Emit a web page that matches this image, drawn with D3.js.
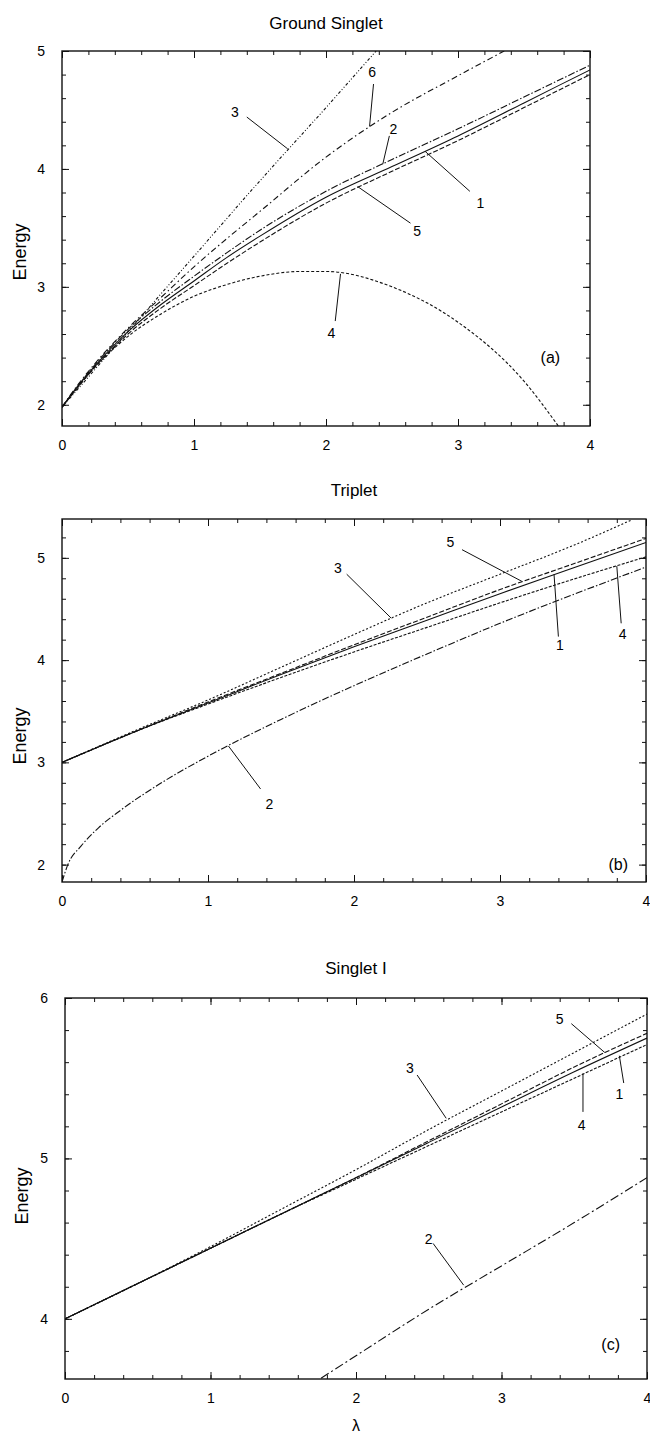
<!DOCTYPE html>
<html>
<head>
<meta charset="utf-8">
<script src="https://cdn.jsdelivr.net/npm/d3@7"></script>
<style>
  body { margin: 0; background: #fff; }
  svg { display: block; font-family: "Liberation Sans", Arial, Helvetica, sans-serif; }
</style>
</head>
<body>
<svg id="chart" width="650" height="1441"></svg>
<script>
// ---- panel (a): Ground Singlet ----
var lamA  = [0, 0.1, 0.25, 0.5, 0.75, 1, 1.25, 1.5, 2, 2.5, 3, 3.5, 4]
var gs1   = [1.98, 2.13, 2.33, 2.62, 2.85, 3.05, 3.25, 3.43, 3.76, 4.02, 4.28, 4.56, 4.84]
var gs2   = [1.98, 2.13, 2.34, 2.64, 2.88, 3.09, 3.29, 3.48, 3.81, 4.08, 4.34, 4.61, 4.88]
var gs5   = [1.98, 2.12, 2.32, 2.60, 2.82, 3.01, 3.20, 3.38, 3.71, 3.98, 4.24, 4.52, 4.80]
var lam3A = [0, 0.5, 1, 1.5, 2, 2.38]
var gs3   = [1.98, 2.62, 3.26, 3.90, 4.52, 5.0]
var lam6A = [0, 0.1, 0.25, 0.5, 0.75, 1, 1.25, 1.5, 2, 2.5, 3, 3.35]
var gs6   = [1.98, 2.14, 2.35, 2.65, 2.91, 3.17, 3.41, 3.64, 4.10, 4.48, 4.79, 5.0]
var lam4A = [0, 0.25, 0.5, 0.75, 1, 1.25, 1.5, 1.8, 2, 2.5, 3, 3.5, 3.76]
var gs4   = [1.98, 2.32, 2.58, 2.77, 2.92, 3.02, 3.09, 3.13, 3.13, 3.0, 2.70, 2.20, 1.82]

// ---- panel (b): Triplet ----
var lamB  = [0, 0.5, 1, 1.5, 2, 2.5, 3, 3.5, 4]
var tr1   = [3.0, 3.30, 3.58, 3.86, 4.13, 4.39, 4.65, 4.90, 5.15]
var tr5   = [3.0, 3.30, 3.59, 3.87, 4.15, 4.42, 4.69, 4.94, 5.19]
var tr4   = [3.0, 3.30, 3.57, 3.83, 4.08, 4.32, 4.56, 4.79, 5.01]
var lam3B = [0, 0.5, 1, 1.5, 2, 2.5, 3, 3.5, 3.9]
var tr3   = [3.0, 3.31, 3.61, 3.93, 4.25, 4.56, 4.84, 5.12, 5.37]
var lam2B = [0, 0.04, 0.13, 0.25, 0.4, 0.67, 1, 1.5, 2, 2.5, 3, 3.5, 4]
var tr2   = [1.83, 2.0, 2.18, 2.36, 2.53, 2.79, 3.06, 3.42, 3.75, 4.06, 4.36, 4.64, 4.91]

// ---- panel (c): Singlet I ----
var lamC  = [0, 0.5, 1, 1.5, 2, 2.5, 3, 3.5, 4]
var si1   = [4.0, 4.22, 4.44, 4.66, 4.88, 5.10, 5.32, 5.54, 5.75]
var si5   = [4.0, 4.22, 4.44, 4.66, 4.88, 5.11, 5.34, 5.57, 5.78]
var si4   = [4.0, 4.22, 4.44, 4.66, 4.87, 5.08, 5.29, 5.50, 5.71]
var si3   = [4.0, 4.22, 4.45, 4.69, 4.93, 5.18, 5.42, 5.66, 5.90]
var lam2C = [1.76, 2, 2.5, 3, 3.5, 4]
var si2   = [3.63, 3.77, 4.06, 4.33, 4.60, 4.88]

var xTicks = [0, 1, 2, 3, 4]

window.onload = () => {
  draw_panel({
    id: "a", left: 62, right: 590, top: 51, bottom: 426,
    yDomain: [1.82, 5.0], yTicks: [2, 3, 4, 5],
    title: "Ground Singlet", titleY: 23, energyX: 26, energyY: 252,
    tag: "(a)", tagAt: [3.70, 2.40],
    series: [
      {x: lamA,  y: gs1, dash: null},
      {x: lamA,  y: gs2, dash: "7,2,1.5,2"},
      {x: lamA,  y: gs5, dash: "5,2"},
      {x: lam3A, y: gs3, dash: "3,2,1,2,1,2"},
      {x: lam6A, y: gs6, dash: "6,3,1.5,3"},
      {x: lam4A, y: gs4, dash: "3,2"}
    ],
    labels: [
      {t: "3", at: [1.31, 4.48], from: [1.40, 4.44], to: [1.71, 4.17]},
      {t: "6", at: [2.35, 4.82], from: [2.36, 4.72], to: [2.33, 4.36]},
      {t: "2", at: [2.51, 4.34], from: [2.48, 4.28], to: [2.43, 4.04]},
      {t: "1", at: [3.17, 3.71], from: [3.09, 3.81], to: [2.75, 4.15]},
      {t: "5", at: [2.69, 3.47], from: [2.64, 3.54], to: [2.24, 3.85]},
      {t: "4", at: [2.04, 2.61], from: [2.07, 2.71], to: [2.11, 3.11]}
    ]
  })
  draw_panel({
    id: "b", left: 62, right: 646, top: 519, bottom: 882,
    yDomain: [1.83, 5.38], yTicks: [2, 3, 4, 5],
    title: "Triplet", titleY: 490, energyX: 26, energyY: 736,
    tag: "(b)", tagAt: [3.81, 2.0],
    series: [
      {x: lamB,  y: tr1, dash: null},
      {x: lamB,  y: tr5, dash: "5,2"},
      {x: lamB,  y: tr4, dash: "3,1.5"},
      {x: lam3B, y: tr3, dash: "2,2"},
      {x: lam2B, y: tr2, dash: "7,2,1.5,2"}
    ],
    labels: [
      {t: "5", at: [2.66, 5.15], from: [2.74, 5.08], to: [3.15, 4.77]},
      {t: "3", at: [1.89, 4.90], from: [1.95, 4.84], to: [2.255, 4.41]},
      {t: "1", at: [3.41, 4.15], from: [3.40, 4.23], to: [3.37, 4.84]},
      {t: "4", at: [3.84, 4.25], from: [3.83, 4.36], to: [3.80, 4.92]},
      {t: "2", at: [1.42, 2.59], from: [1.36, 2.74], to: [1.14, 3.16]}
    ]
  })
  draw_panel({
    id: "c", left: 65, right: 647, top: 998, bottom: 1379,
    yDomain: [3.625, 6.0], yTicks: [4, 5, 6],
    title: "Singlet I", titleY: 968, energyX: 28, energyY: 1196,
    tag: "(c)", tagAt: [3.75, 3.84],
    series: [
      {x: lamC,  y: si1, dash: null},
      {x: lamC,  y: si5, dash: "5,2"},
      {x: lamC,  y: si4, dash: "3,1.5"},
      {x: lamC,  y: si3, dash: "2,2"},
      {x: lam2C, y: si2, dash: "9,3,2,3"}
    ],
    labels: [
      {t: "5", at: [3.40, 5.87], from: [3.48, 5.84], to: [3.71, 5.66]},
      {t: "1", at: [3.81, 5.40], from: [3.84, 5.47], to: [3.81, 5.64]},
      {t: "4", at: [3.55, 5.21], from: [3.56, 5.29], to: [3.56, 5.53]},
      {t: "3", at: [2.37, 5.56], from: [2.42, 5.52], to: [2.62, 5.25]},
      {t: "2", at: [2.50, 4.50], from: [2.53, 4.47], to: [2.74, 4.21]}
    ]
  })

  // lambda label under the last panel
  d3.select("#chart").append("text")
    .attr("x", 356).attr("y", 1431)
    .attr("text-anchor", "middle")
    .attr("font-size", 16)
    .text("λ")
}

function draw_panel(p) {
  var svg = d3.select("#chart")
  var w = p.right - p.left,
      h = p.bottom - p.top

  var x = d3.scaleLinear().domain([0, 4]).range([0, w])
  var y = d3.scaleLinear().domain(p.yDomain).range([h, 0])

  var g = svg.append("g")
    .attr("transform", "translate(" + p.left + "," + p.top + ")")

  // minor ticks every 0.2
  var xMinor = d3.range(0, 21).map(function(i) { return i * 0.2 })
  var yMinor = d3.range(Math.ceil(p.yDomain[0] * 5), Math.floor(p.yDomain[1] * 5 + 1e-6) + 1)
    .map(function(i) { return i / 5 })

  function minor(axis, vals, tf) {
    var a = g.append("g").attr("transform", tf)
      .call(axis.tickValues(vals).tickSize(-4).tickFormat(""))
    a.select(".domain").remove()
  }
  minor(d3.axisBottom(x), xMinor, "translate(0," + h + ")")
  minor(d3.axisTop(x), xMinor, "translate(0,0)")
  minor(d3.axisLeft(y), yMinor, "translate(0,0)")
  minor(d3.axisRight(y), yMinor, "translate(" + w + ",0)")

  // major ticks + labels
  var xb = g.append("g").attr("transform", "translate(0," + h + ")")
    .call(d3.axisBottom(x).tickValues(xTicks).tickSize(-7).tickPadding(14).tickFormat(d3.format("d")))
  var yl = g.append("g")
    .call(d3.axisLeft(y).tickValues(p.yTicks).tickSize(-7).tickPadding(17).tickFormat(d3.format("d")))
  g.append("g").call(d3.axisTop(x).tickValues(xTicks).tickSize(-7).tickFormat(""))
  g.append("g").attr("transform", "translate(" + w + ",0)")
    .call(d3.axisRight(y).tickValues(p.yTicks).tickSize(-7).tickFormat(""))
  g.selectAll(".domain").remove()
  g.selectAll(".tick line").attr("stroke", "#111").attr("stroke-width", 1)
  xb.attr("font-size", 14).attr("font-family", null)
  yl.attr("font-size", 14).attr("font-family", null)

  // frame
  g.append("rect")
    .attr("width", w).attr("height", h)
    .attr("fill", "none").attr("stroke", "#111").attr("stroke-width", 1.4)

  // clip for curves
  g.append("clipPath").attr("id", "clip-" + p.id)
    .append("rect").attr("width", w).attr("height", h)

  var line = d3.line()
    .curve(d3.curveMonotoneX)
    .x(function(d) { return x(d[0]) })
    .y(function(d) { return y(d[1]) })

  g.append("g").attr("clip-path", "url(#clip-" + p.id + ")")
    .selectAll("path")
    .data(p.series)
    .enter()
    .append("path")
      .attr("d", function(s) { return line(s.x.map(function(v, i) { return [v, s.y[i]] })) })
      .attr("fill", "none")
      .attr("stroke", "#111")
      .attr("stroke-width", 1.1)
      .attr("stroke-dasharray", function(s) { return s.dash })

  // curve labels with pointer lines
  g.selectAll("line.ptr")
    .data(p.labels)
    .enter()
    .append("line")
      .attr("class", "ptr")
      .attr("x1", function(d) { return x(d.from[0]) })
      .attr("y1", function(d) { return y(d.from[1]) })
      .attr("x2", function(d) { return x(d.to[0]) })
      .attr("y2", function(d) { return y(d.to[1]) })
      .attr("stroke", "#111")
      .attr("stroke-width", 1)

  g.selectAll("text.lbl")
    .data(p.labels)
    .enter()
    .append("text")
      .attr("class", "lbl")
      .attr("x", function(d) { return x(d.at[0]) })
      .attr("y", function(d) { return y(d.at[1]) })
      .attr("dy", "0.35em")
      .attr("text-anchor", "middle")
      .attr("font-size", 14)
      .text(function(d) { return d.t })

  g.append("text")
    .attr("x", x(p.tagAt[0])).attr("y", y(p.tagAt[1]))
    .attr("dy", "0.35em")
    .attr("text-anchor", "middle")
    .attr("font-size", 16)
    .text(p.tag)

  // title and y label
  svg.append("text")
    .attr("x", (p.left + p.right) / 2).attr("y", p.titleY)
    .attr("dy", "0.35em")
    .attr("text-anchor", "middle")
    .attr("font-size", 17)
    .text(p.title)

  svg.append("text")
    .attr("transform", "translate(" + p.energyX + "," + p.energyY + ") rotate(-90)")
    .attr("text-anchor", "middle")
    .attr("font-size", 18)
    .text("Energy")
}
</script>
</body>
</html>
